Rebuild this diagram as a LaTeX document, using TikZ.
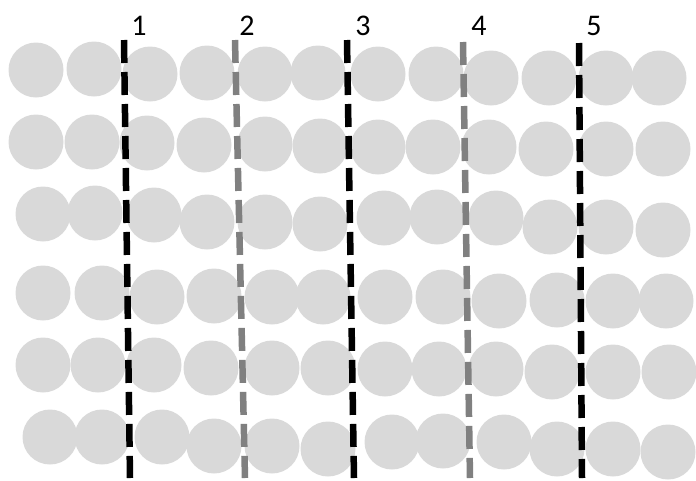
\documentclass[tikz,border=0pt]{standalone}
\usepackage{fontspec}
\setmainfont{Carlito}
\definecolor{dotfill}{HTML}{D9D9D9}
\definecolor{midgray}{HTML}{808080}
\begin{document}
\begin{tikzpicture}[x=1pt,y=-1pt,
  dot/.style={circle,fill=dotfill,minimum size=55pt,inner sep=0pt},
  cutline/.style={line width=6.5pt,dash pattern=on 23pt off 9pt},
  cutblack/.style={cutline,draw=black},
  cutgray/.style={cutline,draw=midgray},
  numlabel/.style={font=\fontsize{30}{34}\selectfont,inner sep=0pt}]
\useasboundingbox (0,0) rectangle (696,480);
% row 1
\foreach \x/\y [count=\i] in {36/70,94/69,150/74,207/73,265/74,318/73,378/74,436/74,491/78,549/78,606/78,659/78}
  \node[dot] (r1c\i) at (\x,\y) {};
% row 2
\foreach \x/\y [count=\i] in {36/142,92/142,147/143,204/145,265/144,320/146,378/147,433/147,489/147,546/149,606/149,663/149}
  \node[dot] (r2c\i) at (\x,\y) {};
% row 3
\foreach \x/\y [count=\i] in {43/214,95/213,154/215,207/222,265/222,320/224,384/218,437/217,496/218,550/227,606/227,663/230}
  \node[dot] (r3c\i) at (\x,\y) {};
% row 4
\foreach \x/\y [count=\i] in {43/293,102/293,157/297,214/296,272/297,323/297,385/297,443/297,499/301,557/300,613/301,666/301}
  \node[dot] (r4c\i) at (\x,\y) {};
% row 5
\foreach \x/\y [count=\i] in {43/365,98/365,154/365,211/368,272/368,328/368,385/369,439/369,496/369,552/372,613/372,669/372}
  \node[dot] (r5c\i) at (\x,\y) {};
% row 6
\foreach \x/\y [count=\i] in {50/437,102/437,162/437,214/446,272/446,328/449,392/442,443/441,504/442,557/449,613/449,668/452}
  \node[dot] (r6c\i) at (\x,\y) {};
% cut lines
\coordinate (t1) at (124,40); \coordinate (b1) at (130,478);
\coordinate (t2) at (235,40); \coordinate (b2) at (245,478);
\coordinate (t3) at (347,40); \coordinate (b3) at (354,478);
\coordinate (t4) at (463,42); \coordinate (b4) at (470,478);
\coordinate (t5) at (579,43); \coordinate (b5) at (582,478);
\draw[cutblack] (t1) -- (b1);
\draw[cutgray] (t2) -- (b2);
\draw[cutblack] (t3) -- (b3);
\draw[cutgray] (t4) -- (b4);
\draw[cutblack] (t5) -- (b5);
% labels
\node[numlabel] (l1) at (139,26) {1};
\node[numlabel] (l2) at (247,26) {2};
\node[numlabel] (l3) at (363,26) {3};
\node[numlabel] (l4) at (479,26) {4};
\node[numlabel] (l5) at (594,26) {5};
\end{tikzpicture}
\end{document}
